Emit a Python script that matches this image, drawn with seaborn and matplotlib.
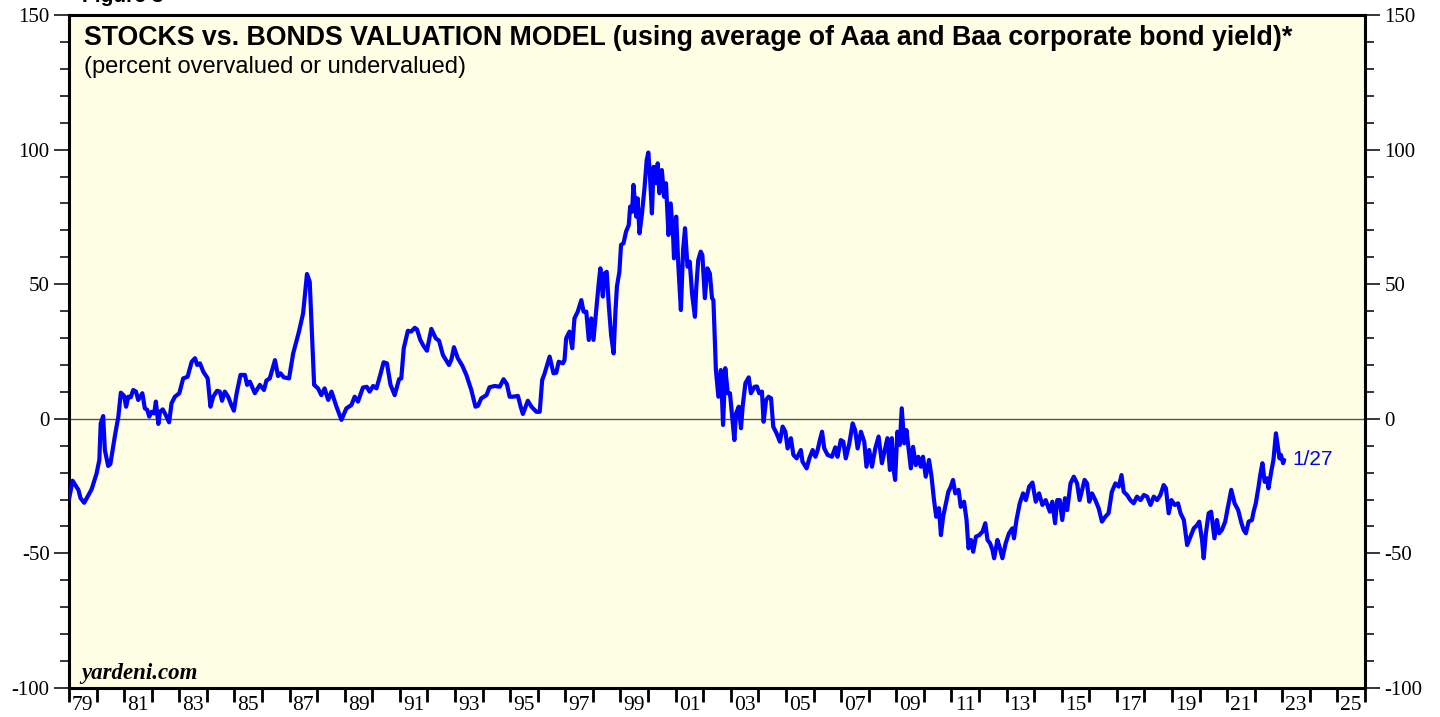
import matplotlib
matplotlib.use('Agg')
import pandas as pd
import seaborn as sns
import matplotlib.pyplot as plt
from matplotlib.ticker import MultipleLocator, FixedLocator, FixedFormatter, NullFormatter

# stocks vs bonds valuation, percent over/undervalued
dates = [
    1979.00, 1979.13, 1979.34, 1979.42, 1979.55, 1979.82, 1980.00, 1980.10, 1980.15, 1980.24,
    1980.30, 1980.42, 1980.50, 1980.67, 1980.79, 1980.88, 1981.00, 1981.07, 1981.15, 1981.24,
    1981.33, 1981.43, 1981.51, 1981.66, 1981.75, 1981.84, 1981.91, 1982.00, 1982.09, 1982.15,
    1982.24, 1982.30, 1982.40, 1982.51, 1982.63, 1982.72, 1982.84, 1983.00, 1983.14, 1983.30,
    1983.45, 1983.57, 1983.65, 1983.75, 1983.87, 1984.03, 1984.13, 1984.23, 1984.37, 1984.47,
    1984.55, 1984.65, 1984.77, 1984.90, 1984.98, 1985.08, 1985.22, 1985.38, 1985.46, 1985.56,
    1985.74, 1985.92, 1986.07, 1986.16, 1986.28, 1986.47, 1986.58, 1986.67, 1986.79, 1986.98,
    1987.13, 1987.34, 1987.49, 1987.63, 1987.73, 1987.89, 1988.03, 1988.15, 1988.27, 1988.40,
    1988.52, 1988.70, 1988.88, 1989.06, 1989.24, 1989.36, 1989.48, 1989.66, 1989.80, 1989.90,
    1990.03, 1990.15, 1990.27, 1990.41, 1990.53, 1990.66, 1990.81, 1990.97, 1991.05, 1991.14,
    1991.29, 1991.41, 1991.54, 1991.62, 1991.74, 1991.86, 1991.98, 1992.14, 1992.30, 1992.42,
    1992.56, 1992.78, 1992.87, 1992.96, 1993.10, 1993.27, 1993.41, 1993.59, 1993.74, 1993.83,
    1993.95, 1994.14, 1994.25, 1994.44, 1994.62, 1994.76, 1994.88, 1994.98, 1995.10, 1995.28,
    1995.38, 1995.46, 1995.64, 1995.77, 1995.95, 1996.07, 1996.16, 1996.25, 1996.43, 1996.57,
    1996.67, 1996.76, 1996.91, 1996.97, 1997.03, 1997.15, 1997.25, 1997.33, 1997.45, 1997.58,
    1997.66, 1997.76, 1997.85, 1997.94, 1998.02, 1998.12, 1998.21, 1998.27, 1998.36, 1998.42,
    1998.50, 1998.58, 1998.66, 1998.75, 1998.82, 1998.87, 1998.96, 1999.02, 1999.11, 1999.20,
    1999.30, 1999.35, 1999.42, 1999.47, 1999.57, 1999.62, 1999.69, 1999.78, 1999.87, 1999.95,
    2000.01, 2000.07, 2000.14, 2000.20, 2000.29, 2000.35, 2000.41, 2000.50, 2000.58, 2000.65,
    2000.74, 2000.82, 2000.91, 2000.94, 2001.02, 2001.10, 2001.19, 2001.27, 2001.34, 2001.43,
    2001.51, 2001.60, 2001.70, 2001.75, 2001.82, 2001.91, 2001.97, 2002.06, 2002.15, 2002.24,
    2002.32, 2002.37, 2002.46, 2002.55, 2002.64, 2002.72, 2002.80, 2002.89, 2002.97, 2003.05,
    2003.13, 2003.19, 2003.29, 2003.37, 2003.43, 2003.53, 2003.65, 2003.73, 2003.86, 2003.95,
    2004.03, 2004.13, 2004.19, 2004.28, 2004.37, 2004.46, 2004.54, 2004.66, 2004.78, 2004.88,
    2004.98, 2005.06, 2005.18, 2005.27, 2005.39, 2005.54, 2005.60, 2005.75, 2005.85, 2005.97,
    2006.07, 2006.15, 2006.23, 2006.31, 2006.39, 2006.51, 2006.67, 2006.79, 2006.87, 2006.99,
    2007.08, 2007.17, 2007.30, 2007.42, 2007.51, 2007.60, 2007.72, 2007.84, 2007.92, 2008.02,
    2008.12, 2008.24, 2008.36, 2008.48, 2008.60, 2008.68, 2008.77, 2008.84, 2008.89, 2008.96,
    2009.04, 2009.13, 2009.20, 2009.29, 2009.37, 2009.44, 2009.53, 2009.61, 2009.71, 2009.80,
    2009.89, 2009.97, 2010.07, 2010.19, 2010.28, 2010.37, 2010.45, 2010.55, 2010.62, 2010.70,
    2010.80, 2010.89, 2010.98, 2011.06, 2011.14, 2011.26, 2011.34, 2011.46, 2011.55, 2011.62,
    2011.71, 2011.79, 2011.89, 2012.01, 2012.13, 2012.23, 2012.31, 2012.40, 2012.49, 2012.55,
    2012.67, 2012.76, 2012.85, 2012.97, 2013.09, 2013.21, 2013.27, 2013.36, 2013.48, 2013.60,
    2013.70, 2013.82, 2013.94, 2014.06, 2014.18, 2014.30, 2014.42, 2014.57, 2014.66, 2014.76,
    2014.84, 2014.93, 2015.02, 2015.12, 2015.20, 2015.32, 2015.44, 2015.56, 2015.65, 2015.74,
    2015.83, 2015.92, 2016.00, 2016.10, 2016.22, 2016.34, 2016.46, 2016.58, 2016.70, 2016.82,
    2016.95, 2017.07, 2017.17, 2017.25, 2017.37, 2017.49, 2017.61, 2017.73, 2017.86, 2017.98,
    2018.10, 2018.22, 2018.34, 2018.46, 2018.58, 2018.70, 2018.78, 2018.88, 2018.98, 2019.10,
    2019.22, 2019.31, 2019.43, 2019.55, 2019.67, 2019.79, 2019.91, 2019.99, 2020.09, 2020.15,
    2020.23, 2020.33, 2020.42, 2020.54, 2020.63, 2020.71, 2020.81, 2020.93, 2021.03, 2021.15,
    2021.27, 2021.40, 2021.52, 2021.60, 2021.68, 2021.78, 2021.90, 2021.96, 2022.04, 2022.14,
    2022.20, 2022.28, 2022.36, 2022.44, 2022.50, 2022.60, 2022.68, 2022.77, 2022.84, 2022.90,
    2022.95, 2023.03, 2023.07,
]
valuation = [
    -29.9, -23.0, -26.4, -29.5, -31.2, -26.2, -20.3, -15.3, -1.7, 1.0,
    -11.6, -17.5, -16.8, -6.0, 0.8, 9.7, 8.5, 4.5, 8.2, 8.0,
    10.7, 10.1, 7.0, 9.5, 3.9, 3.3, 0.8, 2.6, 2.0, 6.4,
    -1.9, 2.6, 3.5, 1.4, -1.3, 5.8, 8.2, 9.5, 15.0, 15.6,
    21.2, 22.5, 20.0, 20.6, 17.5, 15.0, 4.5, 8.2, 10.4, 10.1,
    6.7, 10.1, 8.2, 4.8, 3.0, 9.5, 16.3, 16.3, 12.6, 13.8,
    9.5, 12.6, 10.7, 14.2, 15.0, 21.8, 15.9, 16.9, 15.4, 15.0,
    24.3, 32.4, 39.2, 53.8, 50.9, 12.6, 11.3, 8.8, 11.3, 7.0,
    10.1, 4.5, -0.4, 3.9, 5.1, 8.2, 6.4, 11.6, 11.9, 10.1,
    12.2, 11.3, 15.6, 21.0, 20.6, 12.6, 8.8, 14.7, 15.0, 26.2,
    32.7, 32.4, 33.8, 33.2, 29.3, 27.0, 25.3, 33.4, 29.9, 29.0,
    23.7, 20.0, 22.1, 26.6, 22.5, 19.6, 16.3, 10.7, 4.5, 4.8,
    7.6, 8.8, 11.7, 12.2, 11.9, 14.7, 12.9, 8.2, 8.2, 8.5,
    4.5, 1.8, 6.7, 4.5, 2.6, 2.6, 14.4, 16.9, 23.1, 16.9,
    17.1, 21.2, 20.6, 21.8, 29.9, 32.4, 26.2, 37.3, 39.8, 44.1,
    39.8, 39.8, 29.3, 37.3, 29.3, 40.4, 50.3, 55.9, 45.4, 54.0,
    54.6, 41.6, 31.1, 24.3, 40.4, 49.1, 54.6, 64.6, 65.2, 69.5,
    72.0, 78.8, 76.9, 86.9, 75.1, 81.9, 68.9, 76.3, 85.6, 96.1,
    98.9, 89.9, 76.3, 93.6, 87.5, 94.9, 83.8, 92.4, 82.5, 87.5,
    68.3, 80.0, 67.6, 59.6, 75.1, 56.5, 40.4, 62.7, 70.8, 56.5,
    58.4, 46.0, 37.9, 49.1, 59.0, 62.1, 60.8, 44.8, 55.9, 54.0,
    44.8, 44.1, 18.1, 8.2, 18.1, -2.3, 18.8, 9.5, 9.5, 0.8,
    -7.9, 2.0, 4.5, -3.5, 4.5, 13.2, 15.4, 9.5, 11.9, 12.0,
    9.5, 10.1, -1.1, 7.0, 8.2, 7.6, -2.9, -5.4, -8.5, -2.9,
    -4.8, -11.0, -7.2, -13.4, -14.7, -11.6, -15.9, -18.4, -14.7, -11.6,
    -14.1, -11.6, -7.9, -4.8, -11.0, -13.4, -14.1, -10.6, -14.1, -7.9,
    -8.5, -14.7, -9.1, -1.7, -4.2, -11.0, -4.8, -8.5, -17.8, -11.6,
    -17.8, -11.0, -6.6, -16.5, -11.0, -7.2, -19.0, -7.2, -17.8, -22.7,
    -4.8, -9.7, 3.9, -9.1, -4.2, -10.4, -18.4, -10.4, -17.2, -14.1,
    -17.8, -14.1, -21.5, -15.3, -21.5, -30.2, -36.4, -33.2, -43.2, -36.4,
    -31.4, -27.1, -25.2, -22.7, -27.7, -26.4, -32.7, -30.8, -37.6, -48.1,
    -45.0, -49.4, -43.8, -43.2, -41.9, -38.8, -45.0, -46.2, -48.7, -51.8,
    -45.0, -48.1, -51.8, -46.2, -42.5, -40.7, -44.4, -37.6, -31.4, -27.7,
    -30.2, -25.2, -23.7, -30.8, -27.7, -32.0, -30.2, -34.5, -30.8, -38.8,
    -30.2, -30.2, -37.6, -29.5, -33.9, -24.0, -21.5, -24.0, -30.2, -26.4,
    -22.7, -24.0, -30.8, -27.7, -30.2, -33.2, -38.2, -36.4, -35.1, -27.1,
    -24.0, -25.2, -20.9, -27.1, -28.3, -30.2, -31.4, -28.9, -30.2, -28.3,
    -28.9, -32.0, -28.9, -30.2, -28.3, -24.6, -25.8, -35.1, -30.2, -32.0,
    -31.4, -35.1, -37.6, -46.9, -43.8, -40.7, -39.5, -38.2, -45.0, -51.8,
    -42.5, -35.1, -34.5, -44.4, -37.6, -42.5, -41.3, -38.2, -32.7, -26.4,
    -31.4, -33.9, -38.8, -41.3, -42.5, -38.2, -37.6, -34.5, -31.4, -25.2,
    -20.9, -16.5, -23.4, -22.1, -25.8, -19.6, -15.3, -5.4, -10.4, -14.7,
    -13.4, -16.5, -15.3,
]
last_label = '1/27'

label_years = [1979, 1981, 1983, 1985, 1987, 1989, 1991, 1993, 1995, 1997, 1999, 2001,
               2003, 2005, 2007, 2009, 2011, 2013, 2015, 2017, 2019, 2021, 2023, 2025]
year_labels = ['79', '81', '83', '85', '87', '89', '91', '93', '95', '97', '99', '01',
               '03', '05', '07', '09', '11', '13', '15', '17', '19', '21', '23', '25']

df = pd.DataFrame({'date': dates, 'value': valuation})

sns.set_theme(style='ticks')
plt.rcParams['font.family'] = ['Liberation Serif', 'DejaVu Serif']
plt.rcParams['axes.unicode_minus'] = False
plt.rcParams['text.color'] = 'black'

W, H = 1440, 717
fig = plt.figure(figsize=(W / 100, H / 100), dpi=100)
fig.patch.set_facecolor('white')
ax = fig.add_axes([69 / W, 29 / H, 1296 / W, 673 / H])
ax.set_facecolor('#FEFEE4')

ax.axhline(0, color='#555555', lw=1.0, zorder=1)
sns.lineplot(data=df, x='date', y='value', color='#0000FF', lw=3.0,
             sort=False, estimator=None, ax=ax, zorder=3)

ax.text(dates[-1] + 0.28, valuation[-1], last_label, color='#0000FF',
        fontsize=15, family=['Liberation Sans'], va='center', ha='left')

ax.set_xlim(1979, 2026)
ax.set_ylim(-100, 150)
ax.set_xlabel('')
ax.set_ylabel('')

# x: year ticks at the boundaries, labels centred inside the odd years
ax.xaxis.set_major_locator(MultipleLocator(1))
ax.xaxis.set_major_formatter(NullFormatter())
ax.xaxis.set_minor_locator(FixedLocator([y + 0.5 for y in label_years]))
ax.xaxis.set_minor_formatter(FixedFormatter(year_labels))
ax.tick_params(axis='x', which='major', direction='out', length=10, width=2, color='black')
ax.tick_params(axis='x', which='minor', length=0, pad=6, labelsize=15.5, labelcolor='black')

ax.yaxis.set_major_locator(MultipleLocator(50))
ax.yaxis.set_minor_locator(MultipleLocator(10))
ax.tick_params(axis='y', which='both', left=True, right=True, labelleft=True,
               labelright=True, direction='out', color='black')
ax.tick_params(axis='y', which='major', length=11, width=1.1, pad=3, labelsize=15,
               labelcolor='black')
ax.tick_params(axis='y', which='minor', length=6.5, width=1.1)

for s in ax.spines.values():
    s.set_visible(True)
    s.set_linewidth(2.2)
    s.set_color('black')

fig.text(84 / W, 1 - 45 / H,
         'STOCKS vs. BONDS VALUATION MODEL (using average of Aaa and Baa corporate bond yield)*',
         fontsize=19.3, fontweight='bold', family=['Liberation Sans'], color='black',
         va='baseline', ha='left')
fig.text(84 / W, 1 - 73 / H, '(percent overvalued or undervalued)',
         fontsize=17, family=['Liberation Sans'], color='black', va='baseline', ha='left')
fig.text(81 / W, 1 - 679 / H, 'yardeni.com', fontsize=16.5, fontweight='bold',
         fontstyle='italic', family=['Liberation Serif'], color='black',
         va='baseline', ha='left')
fig.text(82 / W, 1 - 2 / H, 'Figure 3', fontsize=15, fontweight='bold',
         family=['Liberation Sans'], color='black', va='baseline', ha='left')

fig.savefig('out.png', dpi=100)
